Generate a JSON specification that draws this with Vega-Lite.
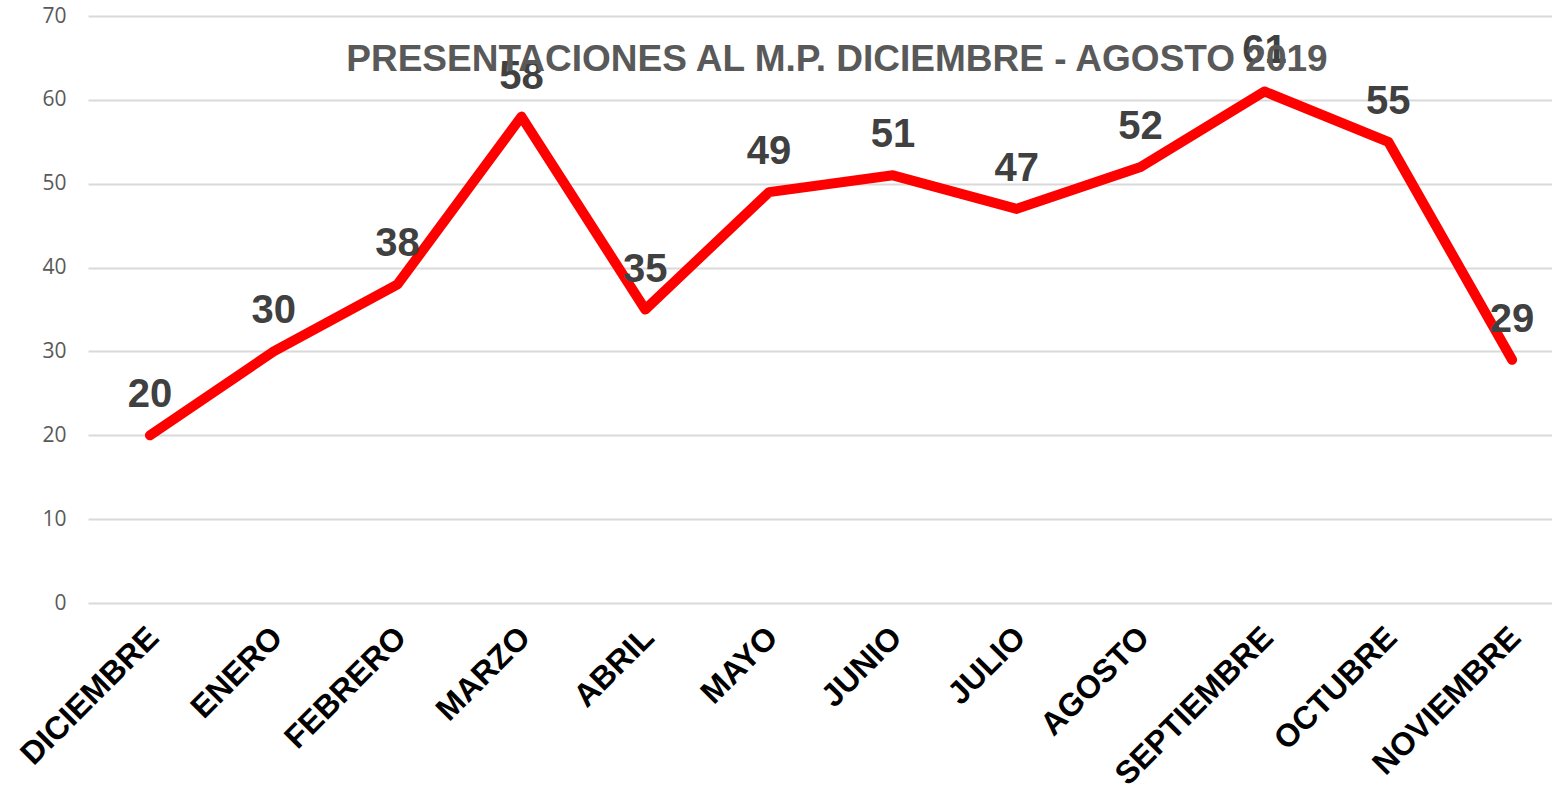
{
  "$schema": "https://vega.github.io/schema/vega-lite/v6.json",
  "autosize": "none",
  "width": 1486,
  "height": 587,
  "padding": {"left": 88, "top": 16, "right": 0, "bottom": 186},
  "background": "white",
  "config": {"view": {"stroke": null}},
  "datasets": {
    "meses": [
      {"mes": "DICIEMBRE", "valor": 20},
      {"mes": "ENERO", "valor": 30},
      {"mes": "FEBRERO", "valor": 38},
      {"mes": "MARZO", "valor": 58},
      {"mes": "ABRIL", "valor": 35},
      {"mes": "MAYO", "valor": 49},
      {"mes": "JUNIO", "valor": 51},
      {"mes": "JULIO", "valor": 47},
      {"mes": "AGOSTO", "valor": 52},
      {"mes": "SEPTIEMBRE", "valor": 61},
      {"mes": "OCTUBRE", "valor": 55},
      {"mes": "NOVIEMBRE", "valor": 29}
    ],
    "titulo": [
      {"texto": "PRESENTACIONES AL M.P. DICIEMBRE - AGOSTO 2019"}
    ]
  },
  "layer": [
    {
      "data": {"name": "meses"},
      "mark": {"type": "line", "color": "#ff0000", "strokeWidth": 10, "strokeCap": "round", "strokeJoin": "round"},
      "encoding": {
        "x": {
          "field": "mes",
          "type": "nominal",
          "scale": {"type": "point", "padding": 0.5, "domain": ["DICIEMBRE", "ENERO", "FEBRERO", "MARZO", "ABRIL", "MAYO", "JUNIO", "JULIO", "AGOSTO", "SEPTIEMBRE", "OCTUBRE", "NOVIEMBRE"]},
          "axis": {
            "title": null,
            "labelAngle": -45,
            "labelAlign": "right",
            "labelBaseline": "middle",
            "labelFont": "Liberation Sans",
            "labelFontSize": 32,
            "labelFontWeight": "bold",
            "labelColor": "#000000",
            "labelPadding": 29,
            "labelOffset": 3,
            "labelLimit": 500,
            "labelOverlap": false,
            "domain": false,
            "ticks": false,
            "grid": false
          }
        },
        "y": {
          "field": "valor",
          "type": "quantitative",
          "scale": {"domain": [0, 70], "nice": false},
          "axis": {
            "title": null,
            "values": [0, 10, 20, 30, 40, 50, 60, 70],
            "labelFont": "Open Sans",
            "labelFontSize": 21,
            "labelColor": "#595959",
            "labelPadding": 22,
            "domain": false,
            "ticks": false,
            "gridColor": "#d9d9d9",
            "gridWidth": 2
          }
        }
      }
    },
    {
      "data": {"name": "meses"},
      "mark": {"type": "text", "font": "Liberation Sans", "fontSize": 40, "fontWeight": "bold", "color": "#404040", "baseline": "alphabetic", "dy": -28},
      "encoding": {
        "x": {"field": "mes", "type": "nominal"},
        "y": {"field": "valor", "type": "quantitative"},
        "text": {"field": "valor", "type": "quantitative"}
      }
    },
    {
      "data": {"name": "titulo"},
      "mark": {"type": "text", "font": "Liberation Sans", "fontSize": 37, "fontWeight": "bold", "color": "#595959", "baseline": "middle", "align": "center", "dx": -56},
      "encoding": {
        "x": {"datum": "JUNIO", "type": "nominal"},
        "y": {"datum": 64.75, "type": "quantitative"},
        "text": {"field": "texto", "type": "nominal"}
      }
    }
  ]
}
